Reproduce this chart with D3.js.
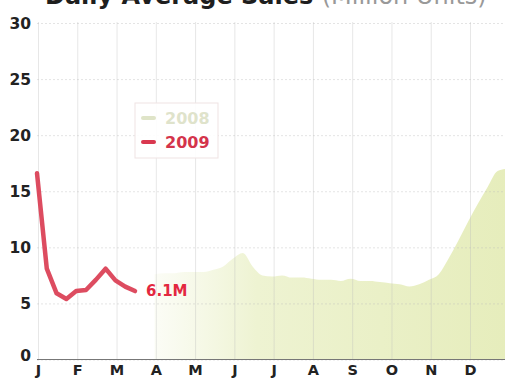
<!DOCTYPE html>
<html>
<head>
<meta charset="utf-8">
<script src="https://cdn.jsdelivr.net/npm/d3@7"></script>
<style>
  html, body { margin: 0; padding: 0; background: #fff; overflow: hidden; }
  text { font-family: "DejaVu Sans", sans-serif; font-weight: bold; }
</style>
</head>
<body>
<svg id="chart" width="505" height="378"></svg>
<script>
// ---- data ----
const months = ["J", "F", "M", "A", "M", "J", "J", "A", "S", "O", "N", "D"];
const yTicks = [0, 5, 10, 15, 20, 25, 30];

// 2009: weekly values, week 0 = first week of January
const weeks2009 = [0, 1, 2, 3, 4, 5, 6, 7, 8, 9, 10];
const claims2009 = [16.6, 8.1, 5.9, 5.4, 6.1, 6.2, 7.1, 8.1, 7.05, 6.5, 6.1];

// 2008: weekly values from April through December
const weeks2008 = [12, 13, 14, 15, 16, 17, 18, 19, 20, 21, 22, 23, 24, 25, 26, 27, 28, 29, 30,
                   31, 32, 33, 34, 35, 36, 37, 38, 39, 40, 41, 42, 43, 44, 45, 46, 47, 48];
const claims2008 = [7.6, 7.7, 7.7, 7.8, 7.8, 7.8, 8.0, 8.3, 9.0, 9.5, 8.3, 7.5, 7.4, 7.5, 7.3,
                    7.3, 7.2, 7.1, 7.1, 7.0, 7.2, 7.0, 7.0, 6.9, 6.8, 6.7, 6.5, 6.7, 7.1, 7.6,
                    9.0, 10.6, 12.3, 13.9, 15.4, 16.8, 17.0];

const seriesLabels = ["2008", "2009"];
const endLabel = "6.1M";

// ---- layout ----
const svg = d3.select("#chart");
const plotLeft = 37, plotRight = 505, plotTop = 22, plotBottom = 359.5;

const monthX = d3.scaleLinear().domain([0, months.length - 1]).range([plotLeft + 1, 470]);
const weekX = d3.scaleLinear().domain([0, 48]).range([plotLeft, 507.4]);
const y = d3.scaleLinear().domain([0, 30]).range([plotBottom, 23]);

// ---- fills ----
const defs = svg.append("defs");
const grad = defs.append("linearGradient")
  .attr("id", "fill2008")
  .attr("gradientUnits", "userSpaceOnUse")
  .attr("x1", 150).attr("x2", 505).attr("y1", 0).attr("y2", 0);
grad.append("stop").attr("offset", 0).attr("stop-color", "#f0f4d8").attr("stop-opacity", 0.2);
grad.append("stop").attr("offset", 0.3).attr("stop-color", "#eef3d2").attr("stop-opacity", 1);
grad.append("stop").attr("offset", 1).attr("stop-color", "#e6edbc").attr("stop-opacity", 1);

// ---- 2008 area ----
const area = d3.area()
  .x((d, i) => weekX(weeks2008[i]))
  .y0(y(0))
  .y1(d => y(d))
  .curve(d3.curveMonotoneX);

svg.append("path")
  .datum(claims2008)
  .attr("d", area)
  .attr("fill", "url(#fill2008)");

// ---- grid + y axis ----
const yAxis = d3.axisLeft(y)
  .tickValues(yTicks)
  .tickSize(-(plotRight - plotLeft))
  .tickPadding(6)
  .tickFormat(d3.format("d"));

const gy = svg.append("g")
  .attr("transform", `translate(${plotLeft},0)`)
  .call(yAxis);
gy.select(".domain").remove();
gy.selectAll(".tick line")
  .attr("stroke", "#bbb")
  .attr("stroke-opacity", 0.4)
  .attr("stroke-dasharray", "2,2");
gy.selectAll(".tick text")
  .attr("fill", "#222")
  .style("font-size", "15.5px")
  .attr("dy", d => d === 0 ? "0.05em" : "0.35em");

// ---- month axis with vertical grid ----
const xAxis = d3.axisBottom(monthX)
  .tickValues(d3.range(months.length))
  .tickSize(-(plotBottom - plotTop))
  .tickPadding(5.5)
  .tickFormat(i => months[i]);

const gx = svg.append("g")
  .attr("transform", `translate(0,${plotBottom})`)
  .call(xAxis);
gx.select(".domain").remove();
gx.selectAll(".tick line")
  .attr("stroke", "#bbb")
  .attr("stroke-opacity", 0.35);
gx.selectAll(".tick text")
  .attr("fill", "#222")
  .style("font-size", "14.5px");

// baseline
svg.append("line")
  .attr("x1", plotLeft).attr("x2", plotRight)
  .attr("y1", y(0)).attr("y2", y(0))
  .attr("stroke", "#777")
  .attr("stroke-width", 1.2);

// ---- 2009 line ----
const line = d3.line()
  .x((d, i) => weekX(weeks2009[i]))
  .y(d => y(d))
  .curve(d3.curveLinear);

svg.append("path")
  .datum(claims2009)
  .attr("d", line)
  .attr("fill", "none")
  .attr("stroke", "#d9384f")
  .attr("stroke-opacity", 0.9)
  .attr("stroke-width", 4.5)
  .attr("stroke-linejoin", "round")
  .attr("stroke-linecap", "round");

// end value label
const lastI = claims2009.length - 1;
svg.append("text")
  .attr("x", weekX(weeks2009[lastI]) + 11)
  .attr("y", y(claims2009[lastI]) + 5)
  .attr("fill", "#e3283f")
  .style("font-size", "15px")
  .text(endLabel);

// ---- legend ----
const lg = svg.append("g").attr("transform", "translate(135,103)");
lg.append("rect")
  .attr("width", 83).attr("height", 55)
  .attr("fill", "#fff").attr("fill-opacity", 0.9)
  .attr("stroke", "#efe3e3").attr("stroke-width", 1);
const legendColors = ["#dfe4c8", "#d9384f"];
seriesLabels.forEach((s, i) => {
  const cy = 15 + i * 24;
  lg.append("line")
    .attr("x1", 8).attr("x2", 19)
    .attr("y1", cy).attr("y2", cy)
    .attr("stroke", legendColors[i])
    .attr("stroke-width", 4)
    .attr("stroke-linecap", "round");
  lg.append("text")
    .attr("x", 30).attr("y", cy)
    .attr("dy", "0.36em")
    .attr("fill", i === 0 ? "#dfe3cb" : "#d4344b")
    .style("font-size", "16px")
    .text(s);
});

// ---- title (clipped at the top edge) ----
const title = svg.append("text")
  .attr("x", 45).attr("y", 4)
  .style("font-size", "24px")
  .attr("fill", "#1e1e1e");
title.append("tspan").text("Daily Average Sales ");
title.append("tspan")
  .attr("fill", "#999")
  .style("font-weight", "normal")
  .text("(Million Units)");
</script>
</body>
</html>
